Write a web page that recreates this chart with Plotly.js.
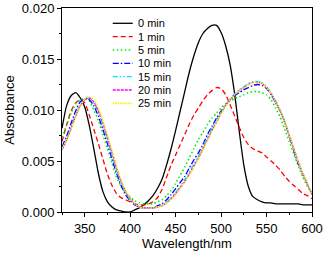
<!DOCTYPE html>
<html>
<head>
<meta charset="utf-8">
<script src="https://cdn.plot.ly/plotly-3.0.1.min.js"></script>
<style>html,body{margin:0;padding:0;background:#fff;}#chart{width:326px;height:253px;}</style>
</head>
<body>
<div id="chart"></div>
<script>
// Wavelength grid (nm)
const wavelength = [325,330,335,340,345,350,355,360,365,370,375,380,385,390,395,400,405,410,415,420,425,430,435,440,445,450,455,460,465,470,475,480,485,490,495,500,505,510,515,520,525,530,535,540,545,550,555,560,565,570,575,580,585,590,595,600];

const seriesNames = ["0 min","1 min","5 min","10 min","15 min","20 min","25 min"];

const abs0 = [0.0082,0.0104,0.0114,0.0117,0.0112,0.0103,0.0085,0.0062,0.0038,0.0020,0.0010,0.0005,0.0002,0.0001,0.0000,0.0000,0.0002,0.0004,0.0007,0.0011,0.0016,0.0023,0.0032,0.0046,0.0062,0.0080,0.0099,0.0118,0.0137,0.0153,0.0166,0.0175,0.0180,0.0183,0.0183,0.0176,0.0163,0.0144,0.0115,0.0079,0.0046,0.0025,0.0015,0.0012,0.0010,0.0009,0.0009,0.0008,0.0008,0.0008,0.0008,0.0008,0.0008,0.0007,0.0007,0.0007];
const abs1 = [0.0069,0.0085,0.0099,0.0107,0.0110,0.0107,0.0095,0.0081,0.0067,0.0052,0.0037,0.0026,0.0018,0.0014,0.0012,0.0010,0.0008,0.0007,0.0007,0.0008,0.0010,0.0014,0.0022,0.0034,0.0046,0.0056,0.0066,0.0076,0.0086,0.0095,0.0102,0.0109,0.0115,0.0119,0.0122,0.0121,0.0115,0.0105,0.0094,0.0083,0.0073,0.0066,0.0062,0.0060,0.0058,0.0054,0.0050,0.0046,0.0041,0.0035,0.0030,0.0026,0.0022,0.0018,0.0016,0.0013];
const abs5 = [0.0073,0.0085,0.0097,0.0106,0.0110,0.0111,0.0109,0.0100,0.0090,0.0076,0.0062,0.0048,0.0034,0.0025,0.0019,0.0015,0.0011,0.0009,0.0008,0.0008,0.0008,0.0010,0.0012,0.0016,0.0021,0.0028,0.0036,0.0044,0.0053,0.0062,0.0071,0.0078,0.0086,0.0092,0.0097,0.0102,0.0106,0.0109,0.0111,0.0113,0.0115,0.0117,0.0118,0.0118,0.0117,0.0115,0.0110,0.0102,0.0093,0.0081,0.0069,0.0057,0.0045,0.0034,0.0025,0.0018];
const abs10 = [0.0064,0.0074,0.0087,0.0099,0.0108,0.0111,0.0110,0.0104,0.0094,0.0081,0.0067,0.0052,0.0038,0.0026,0.0017,0.0011,0.0007,0.0005,0.0004,0.0004,0.0004,0.0006,0.0008,0.0012,0.0017,0.0023,0.0029,0.0035,0.0043,0.0051,0.0058,0.0066,0.0076,0.0084,0.0092,0.0099,0.0105,0.0110,0.0114,0.0117,0.0120,0.0122,0.0124,0.0125,0.0124,0.0121,0.0115,0.0107,0.0099,0.0088,0.0074,0.0060,0.0047,0.0037,0.0027,0.0018];
const abs15 = [0.0062,0.0071,0.0083,0.0095,0.0105,0.0111,0.0112,0.0107,0.0098,0.0085,0.0071,0.0056,0.0041,0.0029,0.0019,0.0012,0.0008,0.0005,0.0004,0.0004,0.0004,0.0005,0.0007,0.0010,0.0014,0.0019,0.0025,0.0032,0.0039,0.0047,0.0055,0.0064,0.0073,0.0082,0.0090,0.0098,0.0105,0.0111,0.0116,0.0120,0.0123,0.0126,0.0128,0.0128,0.0127,0.0123,0.0117,0.0109,0.0100,0.0089,0.0076,0.0062,0.0049,0.0038,0.0028,0.0018];
const abs20 = [0.0061,0.0070,0.0082,0.0094,0.0104,0.0110,0.0112,0.0108,0.0099,0.0087,0.0073,0.0058,0.0043,0.0030,0.0020,0.0013,0.0008,0.0005,0.0004,0.0004,0.0004,0.0005,0.0006,0.0009,0.0013,0.0018,0.0024,0.0030,0.0037,0.0045,0.0053,0.0062,0.0071,0.0080,0.0088,0.0097,0.0104,0.0110,0.0115,0.0119,0.0122,0.0125,0.0127,0.0127,0.0126,0.0122,0.0116,0.0108,0.0099,0.0088,0.0075,0.0062,0.0049,0.0037,0.0027,0.0017];
const abs25 = [0.0062,0.0070,0.0081,0.0093,0.0104,0.0111,0.0113,0.0110,0.0102,0.0089,0.0075,0.0060,0.0045,0.0031,0.0021,0.0013,0.0008,0.0005,0.0004,0.0004,0.0004,0.0005,0.0006,0.0009,0.0012,0.0017,0.0023,0.0029,0.0036,0.0044,0.0052,0.0061,0.0070,0.0079,0.0088,0.0096,0.0104,0.0110,0.0115,0.0119,0.0122,0.0125,0.0127,0.0127,0.0126,0.0122,0.0116,0.0108,0.0099,0.0088,0.0075,0.0062,0.0049,0.0037,0.0027,0.0017];

const seriesValues = [abs0, abs1, abs5, abs10, abs15, abs20, abs25];
const colors = ["#000000","#ff0000","#00ee00","#0000ff","#00e5ff","#ff00ff","#f2f200"];
const dashes = ["solid","5px,3px","1.5px,2.5px","6px,2px,1.5px,2px","5px,2px,1.5px,2px,1.5px,2px","3px,1px","1.5px,1px"];
const widths = [1.3,1.3,1.6,1.3,1.3,1.3,1.6];

const FONT = "Liberation Sans, Arial, sans-serif";

const traces = seriesValues.map((vals, i) => ({
  x: wavelength, y: vals, type: "scatter", mode: "lines", name: seriesNames[i],
  line: {color: colors[i], width: widths[i], dash: dashes[i], shape: "spline", smoothing: 0.6},
  showlegend: false, hoverinfo: "skip"
}));

// Compact legend drawn with shapes + annotations (paper coordinates)
const legX0 = 0.203, legX1 = 0.283, legTextX = 0.296, legY0 = 0.925, legDY = 0.0654;
const shapes = [], annotations = [];
seriesNames.forEach((nm, i) => {
  const yy = legY0 - i * legDY;
  shapes.push({type: "line", xref: "paper", yref: "paper", x0: legX0, x1: legX1, y0: yy, y1: yy,
    line: {color: colors[i], width: widths[i], dash: dashes[i]}});
  annotations.push({xref: "paper", yref: "paper", x: legTextX, y: yy, xanchor: "left", yanchor: "middle",
    text: nm, showarrow: false, font: {family: FONT, size: 11, color: "#000"}});
});

const axisCommon = {
  showline: true, linecolor: "#000", linewidth: 1, mirror: true,
  ticks: "outside", ticklen: 4, tickwidth: 1, tickcolor: "#000",
  showgrid: false, zeroline: false,
  tickfont: {family: FONT, size: 13, color: "#000"}
};

const layout = {
  width: 326, height: 253,
  margin: {l: 62, r: 14, t: 8, b: 41, pad: 0},
  paper_bgcolor: "#fff", plot_bgcolor: "#fff",
  font: {family: FONT, color: "#000"},
  xaxis: Object.assign({}, axisCommon, {
    range: [325, 600], tickvals: [350,400,450,500,550,600],
    minor: {dtick: 25, tick0: 325, ticks: "outside", ticklen: 2, tickcolor: "#000"},
    title: {text: "Wavelength/nm", font: {family: FONT, size: 13, color: "#000"}, standoff: 2}
  }),
  yaxis: Object.assign({}, axisCommon, {
    range: [0, 0.020], dtick: 0.005, tickformat: ".3f",
    minor: {dtick: 0.0025, ticks: "outside", ticklen: 2, tickcolor: "#000"},
    title: {text: "Absorbance", font: {family: FONT, size: 13, color: "#000"}, standoff: 4}
  }),
  shapes: shapes, annotations: annotations, showlegend: false
};

Plotly.newPlot("chart", traces, layout, {staticPlot: true, displayModeBar: false});
</script>
</body>
</html>
